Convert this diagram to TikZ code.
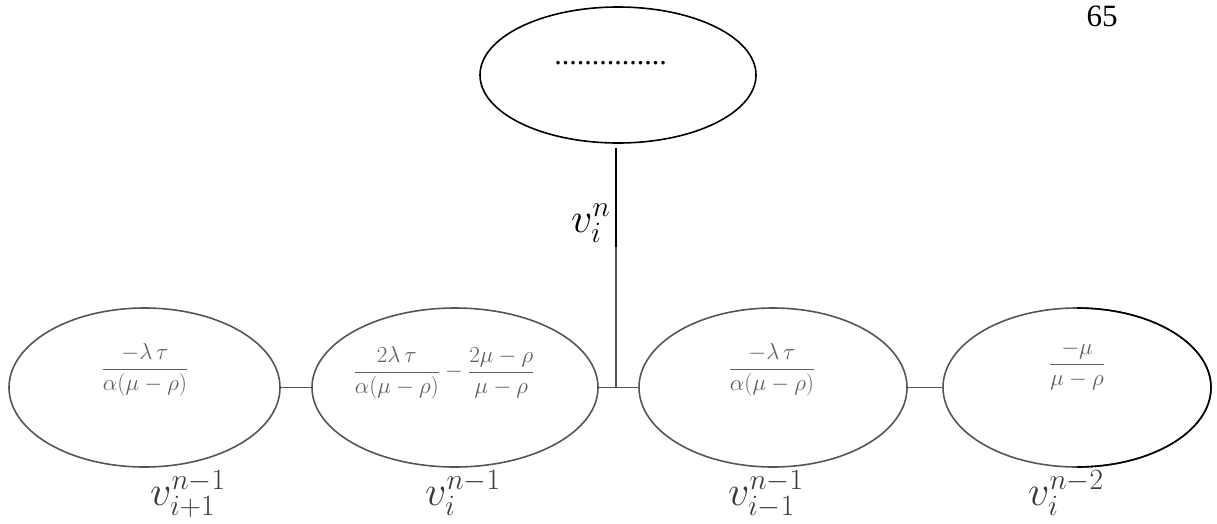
\RequirePackage{fix-cm}
\documentclass[tikz,border=0pt]{standalone}
\usepackage{fontspec}
\setmainfont{Liberation Serif}
\usetikzlibrary{shapes.geometric}
\definecolor{lg}{HTML}{555555}
\definecolor{tg}{HTML}{5E5E5E}
\definecolor{vg}{HTML}{3A3A3A}
\begin{document}
\begin{tikzpicture}[x=1pt,y=-1pt,
  oval/.style={ellipse, draw=lg, line width=1.6pt, inner sep=0pt, minimum height=159pt},
  frac/.style={text=tg, inner sep=0pt, anchor=base, font=\fontsize{23}{28}\selectfont},
  vlab/.style={text=vg, inner sep=0pt, anchor=base west, font=\fontsize{42}{50}\selectfont},
  link/.style={draw=lg, line width=1.6pt}]
\useasboundingbox (0,0) rectangle (1217,523);
% top ellipse
\node[ellipse, draw=black, line width=1.6pt, inner sep=0pt,
      minimum width=276pt, minimum height=136pt] (top) at (618,75) {};
\node[anchor=base, inner sep=0pt, font=\fontsize{30}{36}\selectfont] (dots) at (610.5,64) {...............};
% page number
\node[anchor=base, inner sep=0pt, font=\fontsize{31}{36}\selectfont] (pg) at (1102,26) {65};
% lower ellipses
\node[oval, minimum width=271pt] (e1) at (144.5,387.5) {};
\node[oval, minimum width=286pt] (e2) at (455,387.5) {};
\node[oval, minimum width=268pt] (e3) at (773,387.5) {};
\node[oval, minimum width=268pt] (e4) at (1077,387.5) {};
\begin{scope}
  \clip (1077,290) rectangle (1217,480);
  \draw[black, line width=1.6pt] (e4.center) ellipse [x radius=134pt, y radius=79.5pt];
\end{scope}
% fractions
\node[frac] (f1) at (145,374.75) {$\displaystyle\frac{-\lambda\,\tau}{\alpha(\mu-\rho)}$};
\node[frac] (f2) at (444,377.75) {$\displaystyle\frac{2\lambda\,\tau}{\alpha(\mu-\rho)}-\frac{2\mu-\rho}{\mu-\rho}$};
\node[frac] (f3) at (772,374.75) {$\displaystyle\frac{-\lambda\,\tau}{\alpha(\mu-\rho)}$};
\node[frac] (f4) at (1077,369.75) {$\displaystyle\frac{-\mu}{\mu-\rho}$};
% labels
\node[vlab] (l1) at (150,505) {$v_{i+1}^{n-1}$};
\node[vlab] (l2) at (425,505) {$v_{i}^{n-1}$};
\node[vlab] (l3) at (728,505) {$v_{i-1}^{n-1}$};
\node[vlab] (l4) at (1028,505) {$v_{i}^{n-2}$};
\node[vlab, text=black] (ln) at (571,232) {$v_{i}^{n}$};
% connectors
\coordinate (jn) at (616,387.5);
\coordinate (mid) at (616,247);
\draw[link] (e1.east) -- (e2.west);
\draw[link] (e2.east) -- (e3.west);
\draw[link] (e3.east) -- (e4.west);
\draw[line width=1.6pt, black] ([yshift=-4pt]top.south -| jn) -- (mid);
\draw[link] (mid) -- (jn);
\end{tikzpicture}
\end{document}
